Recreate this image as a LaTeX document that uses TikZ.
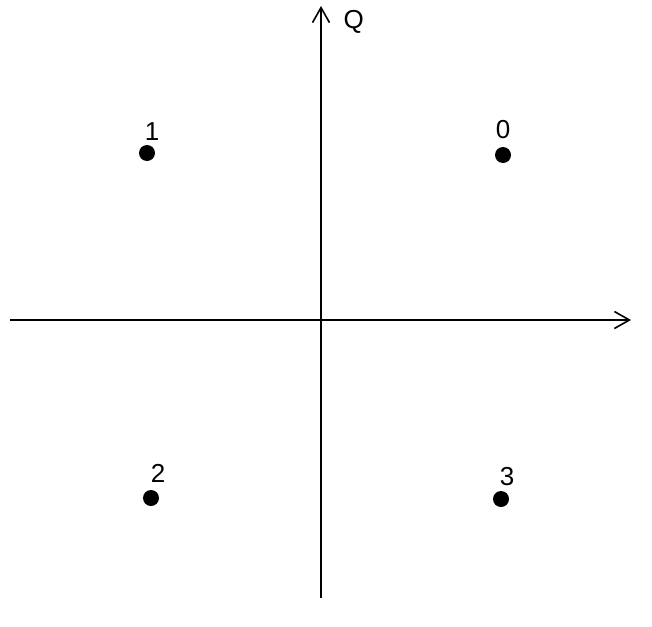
\documentclass[tikz,border=0pt]{standalone}
\usepackage{fontspec}
\setmainfont{Liberation Sans}
\usetikzlibrary{arrows.meta}
\begin{document}
\begin{tikzpicture}[x=1pt, y=-1pt, font=\fontsize{26}{30}\selectfont,
    axis/.style={line width=1.6pt, -{Straight Barb[length=15pt, width=17pt, line width=1.6pt]}},
    symbol/.style={circle, fill=black, draw=none, inner sep=0pt, minimum size=16pt}]
  \useasboundingbox (0,0) rectangle (652,626);
  % axes: I to the right, Q upwards
  \coordinate (west)  at (10, 320);
  \coordinate (east)  at (631, 320);
  \coordinate (south) at (321, 598);
  \coordinate (north) at (321, 6);
  \draw[axis] (west) -- (east);
  \draw[axis] (south) -- (north);
  \node[anchor=west] (qlabel) at (340, 22) {Q};
  % constellation points
  \node[symbol] (s0) at (503, 155) {};
  \node (l0) at (503, 130) {0};
  \node[symbol] (s1) at (147, 153) {};
  \node (l1) at (152, 132) {1};
  \node[symbol] (s2) at (151, 498) {};
  \node (l2) at (158, 473) {2};
  \node[symbol] (s3) at (501, 499) {};
  \node (l3) at (507, 477) {3};
\end{tikzpicture}
\end{document}
